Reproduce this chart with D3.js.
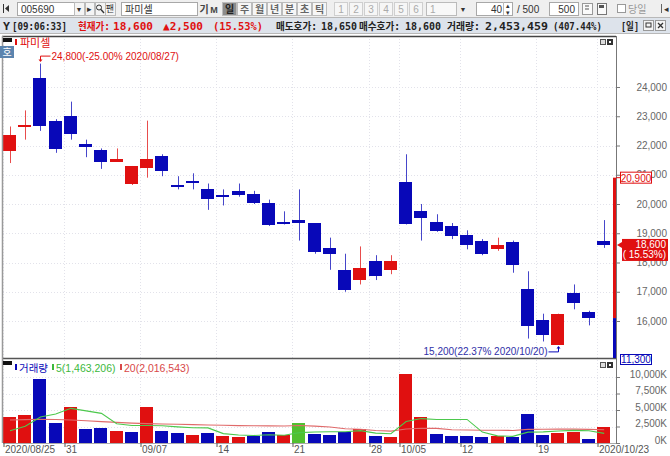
<!DOCTYPE html>
<html>
<head>
<meta charset="utf-8">
<script src="https://cdn.jsdelivr.net/npm/d3@7"></script>
<style>
  body { margin: 0; background: #fff; }
  svg { display: block; font-family: "Liberation Sans", "Noto Sans CJK KR", sans-serif; }
</style>
</head>
<body>
<svg width="670" height="456"></svg>
<script>
// ---- data ----
const dates = ["2020/08/25","2020/08/26","2020/08/27","2020/08/28","2020/08/31","2020/09/01","2020/09/02","2020/09/03","2020/09/04","2020/09/07",
  "2020/09/08","2020/09/09","2020/09/10","2020/09/11","2020/09/14","2020/09/15","2020/09/16","2020/09/17","2020/09/18","2020/09/21",
  "2020/09/22","2020/09/23","2020/09/24","2020/09/25","2020/09/28","2020/09/29","2020/10/05","2020/10/06","2020/10/07","2020/10/08",
  "2020/10/12","2020/10/13","2020/10/14","2020/10/15","2020/10/16","2020/10/19","2020/10/20","2020/10/21","2020/10/22","2020/10/23"]
const opens  = [21800,22650,24300,22850,23000,22050,21850,21450,20700,21250,21650,20650,20800,20500,20300,20450,20350,20050,19400,19450,
  19350,18500,17750,17400,18050,17750,20750,19750,19400,19250,18950,18750,18450,18700,17100,16050,15200,16950,16300,18750]
const highs  = [22650,23200,24800,22900,23500,22200,21900,21900,21300,22850,21700,20950,21050,20700,20500,20700,20450,20150,19750,20500,
  19350,18850,18300,18550,18250,18250,21700,20000,19650,19350,19100,18800,18850,18750,17700,16250,16250,17250,16350,19450]
const lows   = [21400,22200,22500,21750,22200,21600,21200,21450,20650,20900,20950,20500,20500,19800,19950,20250,20000,19250,19300,18750,
  18300,17750,17000,17250,17400,17600,19300,18750,19050,18800,18450,18250,18400,17650,15400,15300,15200,16400,15850,18500]
const closes = [22350,22700,22650,21900,22400,21950,21450,21550,21300,21550,21150,20600,20750,20150,20250,20300,20050,19300,19350,19350,
  18350,18300,17050,17800,17550,18050,19300,19500,19100,18900,18600,18300,18600,17900,15850,15550,16250,16600,16100,18600]
const firstPrevClose = 21800
// volume, thousands of shares
const volumes = [4000,4240,9650,2985,5410,2075,2320,1820,1670,5410,1820,1470,1210,1560,1015,865,1060,1710,1210,2985,
  1365,1210,1710,2075,1105,955,10450,3890,1365,1105,1015,865,1060,955,4350,1210,1470,1620,605,2453]
const ma5  = [1850,2550,3950,4400,5250,4870,4490,2920,2660,2660,2610,2440,2320,2290,1420,1220,1140,1240,1170,1570,
  1670,1700,1700,1870,1490,1410,3260,3700,3550,3550,3570,1650,1080,1000,1650,1690,1810,1920,1850,1463]
const ma20 = [3480,3540,3590,3560,3490,3380,3240,3120,3010,2930,2870,2830,2780,2730,2690,2640,2610,2590,2580,2650,
  2560,2420,2150,2080,1900,1800,2130,2240,2220,2010,1970,1940,1930,1900,2070,2080,2100,2100,2070,2017]
const priceTicks = [16000,17000,18000,19000,20000,21000,22000,23000,24000]
const volTicks = [0,2500,5000,7500,10000]
const tickDates = ["2020/08/25","2020/08/31","2020/09/07","2020/09/14","2020/09/21","2020/09/28","2020/10/05","2020/10/12","2020/10/19","2020/10/23"]
const tickLabels = ["2020/08/25","31","09/07","14","21","28","10/05","12","19","2020/10/23"]
const upperLimit = 20900, lowerLimit = 11300, prevClose = 16100
const lastPrice = 18600, lastPct = "15.53%"
const highNote = "24,800(-25.00% 2020/08/27)", highNoteDate = "2020/08/27", highNoteVal = 24800
const lowNote = "15,200(22.37% 2020/10/20)", lowNoteDate = "2020/10/20", lowNoteVal = 15200

const RED = "#e01010", BLUE = "#0808b8", GREEN = "#50c030"

const svg = d3.select('svg')
const L = 3, R = 616, pTop = 36, pBot = 358, vBot = 443

const x = d3.scaleBand().domain(dates).range([L, 611.2]).paddingInner(0.08).paddingOuter(0)
const bw = x.bandwidth()
const cx = d => Math.round(x(d) + bw / 2) + 0.5
const yP = d3.scaleLinear().domain([16000, 24000]).range([321, 87])
const yV = d3.scaleLinear().domain([0, 10000]).range([vBot, 377])

// ---- toolbar rows ----
const toolbar = svg.append('g')
toolbar.append('rect').attr('width', 670).attr('height', 17).attr('fill', '#efefef')
toolbar.append('rect').attr('y', 17).attr('width', 670).attr('height', 16).attr('fill', '#dde3eb')
toolbar.append('line').attr('x1', 0).attr('x2', 670).attr('y1', 17.5).attr('y2', 17.5).attr('stroke', '#b8b8b8')
toolbar.append('line').attr('x1', 0).attr('x2', 670).attr('y1', 33.5).attr('y2', 33.5).attr('stroke', '#b8b8b8')

function box(x0, y0, w, h, fill, stroke) {
  return toolbar.append('rect').attr('x', x0 + 0.5).attr('y', y0 + 0.5).attr('width', w).attr('height', h)
    .attr('fill', fill).attr('stroke', stroke)
}
function label(x0, y0, s, size, color, anchor, weight) {
  return toolbar.append('text').attr('x', x0).attr('y', y0).attr('font-size', size).attr('fill', color)
    .attr('text-anchor', anchor || 'start').attr('font-weight', weight || 'normal').text(s)
}

toolbar.append('line').attr('x1', 3.5).attr('x2', 3.5).attr('y1', 4).attr('y2', 13).attr('stroke', '#333')
toolbar.append('path').attr('d', 'M5,8.5 L9,5 L9,12 Z').attr('fill', '#333')
box(17, 2, 57, 13, '#fff', '#a8a8a8'); label(21, 12.5, '005690', 10, '#333')
box(74, 2, 10, 13, '#f4f4f4', '#bbb'); label(79, 11.5, '▼', 7, '#333', 'middle')
box(85, 2, 9, 13, '#f4f4f4', '#bbb'); label(89.5, 11.5, '▸', 9, '#333', 'middle')
box(95, 2, 10, 13, '#f4f4f4', '#bbb')
toolbar.append('circle').attr('cx', 99).attr('cy', 7.5).attr('r', 2.5).attr('fill', 'none').attr('stroke', '#333')
toolbar.append('line').attr('x1', 101).attr('y1', 9.5).attr('x2', 104).attr('y2', 13).attr('stroke', '#333').attr('stroke-width', 1.4)
box(105, 2, 10, 13, '#f4f4f4', '#bbb'); label(110, 12, '팬', 9, '#333', 'middle')
box(121, 2, 76, 13, '#fff', '#a8a8a8'); label(125, 12.5, '파미셀', 10, '#333')
label(204, 12.5, '기', 10, '#444', 'middle', 'bold'); label(214, 12.5, 'M', 9, '#444', 'middle', 'bold')
const periods = ['일','주','월','년','분','초','틱']
periods.forEach((p, i) => {
  const bx = 222 + i * 15
  box(bx, 2, 14, 13, i === 0 ? '#8c8c8c' : '#f6f6f6', '#bcbcbc')
  label(bx + 7.5, 12.5, p, 10, i === 0 ? '#222' : '#666', 'middle', 'bold')
})
const nums = ['1','2','3','4','5','6']
nums.forEach((n, i) => {
  const bx = 334 + i * 15
  box(bx, 2, 13, 13, '#f6f6f6', '#cfcfcf')
  label(bx + 7, 12.5, n, 10, '#aaa', 'middle')
})
box(426, 2, 30, 13, '#f8f8f8', '#bbb'); label(430, 12.5, '1', 10, '#aaa')
label(463, 11.5, '▼', 7, '#333', 'middle')
box(476, 2, 36, 13, '#fff', '#a8a8a8'); label(502, 12.5, '40', 10, '#333', 'end')
toolbar.append('line').attr('x1', 503.5).attr('x2', 503.5).attr('y1', 2).attr('y2', 15).attr('stroke', '#bbb')
label(508, 8, '▴', 7, '#333', 'middle'); label(508, 14.5, '▾', 7, '#333', 'middle')
label(517, 12.5, '/ 500', 10, '#333')
box(549, 2, 29, 13, '#fff', '#a8a8a8'); label(575, 12.5, '500', 10, '#333', 'end')
box(582, 3, 10, 11, '#fafafa', '#999'); toolbar.append('path').attr('d', 'M585,6 h4 M585,9 h4').attr('stroke', '#555')
box(597, 3, 9, 11, '#fafafa', '#777'); toolbar.append('rect').attr('x', 599).attr('y', 5).attr('width', 5).attr('height', 3).attr('fill', '#555')
box(617, 4, 8, 8, '#fff', '#999'); label(628, 12.5, '당일', 10, '#999')
toolbar.append('line').attr('x1', 661.5).attr('x2', 661.5).attr('y1', 4).attr('y2', 13).attr('stroke', '#666')
label(666, 12, '◂', 9, '#333', 'middle')

// info row (Korean words a point smaller so their natural width fits the slot)
const info = [
  { s: 'Y', x: 3, w: 7, c: '#222', f: 11 },
  { s: '[09:06:33]', x: 12, w: 55, c: '#222', f: 11 },
  { s: '현재가:', x: 78, w: 32, c: RED, f: 10 },
  { s: '18,600', x: 113, w: 40, c: RED, f: 11 },
  { s: '▲2,500', x: 163, w: 40, c: RED, f: 11 },
  { s: '(15.53%)', x: 213, w: 50, c: RED, f: 11 },
  { s: '매도호가:', x: 276, w: 41, c: '#222', f: 10 },
  { s: '18,650', x: 321, w: 36, c: '#222', f: 11 },
  { s: '매수호가:', x: 359, w: 41, c: '#222', f: 10 },
  { s: '18,600', x: 405, w: 36, c: '#222', f: 11 },
  { s: '거래량:', x: 447, w: 33, c: '#222', f: 10 },
  { s: '2,453,459', x: 485, w: 63, c: '#222', f: 11 },
  { s: '(407.44%)', x: 553, w: 49, c: '#222', f: 11 },
  { s: '[일]', x: 621, w: 18, c: '#222', f: 10 }
]
toolbar.selectAll('.info').data(info).enter().append('text')
  .attr('x', d => d.x).attr('y', 29.5).attr('fill', d => d.c)
  .attr('font-size', d => d.f).attr('font-weight', 'bold')
  .attr('font-family', '"DejaVu Sans Mono", "Noto Sans CJK KR", monospace')
  .attr('textLength', d => d.w).attr('lengthAdjust', 'spacingAndGlyphs')
  .text(d => d.s)
box(643, 20, 10, 10, '#f4f4f4', '#999'); toolbar.append('rect').attr('x', 646).attr('y', 23).attr('width', 5).attr('height', 4).attr('fill', 'none').attr('stroke', '#333')
box(655, 20, 10, 10, '#f4f4f4', '#999'); toolbar.append('path').attr('d', 'M658,23 l5,5 M663,23 l-5,5').attr('stroke', '#333').attr('stroke-width', 1.3)

// ---- chart frame + grids ----
const chart = svg.append('g')
const grid = chart.append('g').attr('stroke', '#e2e2ea').attr('stroke-dasharray', '1,2')
grid.selectAll('.hg').data(priceTicks).enter().append('line')
  .attr('x1', L).attr('x2', R).attr('y1', d => Math.round(yP(d)) + 0.5).attr('y2', d => Math.round(yP(d)) + 0.5)
grid.selectAll('.vg2').data(volTicks.slice(1)).enter().append('line')
  .attr('x1', L).attr('x2', R).attr('y1', d => Math.round(yV(d)) + 0.5).attr('y2', d => Math.round(yV(d)) + 0.5)
grid.selectAll('.vg').data(tickDates).enter().append('line')
  .attr('x1', d => Math.round(x(d)) + 0.5).attr('x2', d => Math.round(x(d)) + 0.5).attr('y1', pTop).attr('y2', vBot)

// ---- candles ----
const idx = d3.range(dates.length)
const candles = chart.append('g')
candles.selectAll('line').data(idx).enter().append('line')
  .attr('x1', i => cx(dates[i])).attr('x2', i => cx(dates[i]))
  .attr('y1', i => yP(highs[i])).attr('y2', i => yP(lows[i]))
  .attr('stroke', i => closes[i] >= opens[i] ? RED : BLUE).attr('stroke-opacity', 0.75)
candles.selectAll('rect').data(idx).enter().append('rect')
  .attr('x', i => Math.round(x(dates[i])))
  .attr('width', Math.round(bw) - 1)
  .attr('y', i => Math.round(yP(Math.max(opens[i], closes[i]))))
  .attr('height', i => Math.max(2, Math.round(Math.abs(yP(opens[i]) - yP(closes[i])))))
  .attr('fill', i => closes[i] >= opens[i] ? RED : BLUE)
  .attr('shape-rendering', 'crispEdges')

// high / low notes
const hx = cx(highNoteDate), hy = yP(highNoteVal)
chart.append('path').attr('d', `M${hx + 10},${hy - 7.5} H${hx} V${hy - 3}`).attr('fill', 'none').attr('stroke', RED)
chart.append('path').attr('d', `M${hx - 2},${hy - 4} L${hx + 2},${hy - 4} L${hx},${hy - 1.5} Z`).attr('fill', RED)
chart.append('text').attr('x', hx + 11).attr('y', hy - 4).attr('font-size', 10).attr('fill', RED).text(highNote)
const lx = cx(lowNoteDate), ly = yP(lowNoteVal)
chart.append('path').attr('d', `M${lx - 10},${ly + 7.5} H${lx} V${ly + 3}`).attr('fill', 'none').attr('stroke', BLUE)
chart.append('path').attr('d', `M${lx - 2},${ly + 4} L${lx + 2},${ly + 4} L${lx},${ly + 1.5} Z`).attr('fill', BLUE)
chart.append('text').attr('x', lx - 11).attr('y', ly + 11).attr('font-size', 10).attr('fill', '#3030a8')
  .attr('text-anchor', 'end').text(lowNote)

// ---- volume ----
const volColor = i => {
  const pc = i === 0 ? firstPrevClose : closes[i - 1]
  return closes[i] > pc ? RED : closes[i] < pc ? BLUE : GREEN
}
chart.append('g').selectAll('rect').data(idx).enter().append('rect')
  .attr('x', i => Math.round(x(dates[i])))
  .attr('width', Math.round(bw) - 1)
  .attr('y', i => Math.round(yV(volumes[i])))
  .attr('height', i => vBot - Math.round(yV(volumes[i])))
  .attr('fill', volColor)
  .attr('shape-rendering', 'crispEdges')

const line = arr => d3.line().x((d, i) => x(dates[i]) + bw / 2).y(d => yV(d))(arr)
chart.append('path').attr('d', line(ma20)).attr('fill', 'none').attr('stroke', '#e06a6a').attr('stroke-width', 1.1)
chart.append('path').attr('d', line(ma5)).attr('fill', 'none').attr('stroke', '#4cc84c').attr('stroke-width', 1.1)

// ---- frame lines ----
chart.append('line').attr('x1', 2).attr('x2', R).attr('y1', pTop + 0.5).attr('y2', pTop + 0.5).attr('stroke', '#444').attr('stroke-width', 1.5)
chart.append('line').attr('x1', 2).attr('x2', R).attr('y1', pBot + 0.5).attr('y2', pBot + 0.5).attr('stroke', '#555').attr('stroke-width', 1.5)
chart.append('line').attr('x1', 2.5).attr('x2', 2.5).attr('y1', pTop).attr('y2', vBot).attr('stroke', '#999').attr('stroke-width', 1.5)
chart.append('line').attr('x1', L).attr('x2', R).attr('y1', vBot + 0.5).attr('y2', vBot + 0.5).attr('stroke', '#aaa')

// price limit bar
chart.append('rect').attr('x', 613).attr('width', 3).attr('y', yP(upperLimit)).attr('height', yP(prevClose) - yP(upperLimit)).attr('fill', RED)
chart.append('rect').attr('x', 613).attr('width', 3).attr('y', yP(prevClose)).attr('height', pBot - yP(prevClose)).attr('fill', BLUE)

// ---- axes ----
const pAxis = chart.append('g').attr('transform', `translate(${R},0)`)
  .call(d3.axisRight(yP).tickValues(priceTicks).tickSize(4).tickFormat(d3.format(',')))
pAxis.select('.domain').attr('d', `M0.5,${pTop}V${vBot}`).attr('stroke', '#777')
pAxis.selectAll('.tick line').attr('stroke', '#777')
pAxis.selectAll('text').attr('x', 51).attr('text-anchor', 'end').attr('fill', '#666').attr('font-size', 10)
  .attr('font-family', '"Liberation Sans", sans-serif')

const vAxis = chart.append('g').attr('transform', `translate(${R},0)`)
  .call(d3.axisRight(yV).tickValues(volTicks).tickSize(4).tickFormat(d => d3.format(',')(d) + 'K'))
vAxis.select('.domain').remove()
vAxis.selectAll('.tick line').attr('stroke', '#777')
vAxis.selectAll('text').attr('x', 51).attr('y', -3).attr('text-anchor', 'end').attr('fill', '#666').attr('font-size', 10)
  .attr('font-family', '"Liberation Sans", sans-serif')

const xl = d3.scaleOrdinal().domain(dates).range(dates.map(d => Math.round(x(d)) + 0.5))
const xAxis = chart.append('g').attr('transform', `translate(0,${vBot})`)
  .call(d3.axisBottom(xl).tickValues(tickDates).tickSize(4).tickFormat((d) => tickLabels[tickDates.indexOf(d)]))
xAxis.select('.domain').remove()
xAxis.selectAll('.tick line').attr('stroke', '#555')
xAxis.selectAll('text').attr('x', 1).attr('y', 3).attr('text-anchor', 'start').attr('fill', '#555').attr('font-size', 10)
  .attr('font-family', '"Liberation Sans", sans-serif')

// right-side price boxes
const ub = yP(upperLimit)
chart.append('line').attr('x1', R).attr('x2', 620).attr('y1', ub).attr('y2', ub).attr('stroke', RED)
chart.append('rect').attr('x', 620.5).attr('y', ub - 5.5).attr('width', 31).attr('height', 11).attr('fill', '#fff').attr('stroke', RED)
chart.append('text').attr('x', 636).attr('y', ub + 4).attr('text-anchor', 'middle').attr('font-size', 10).attr('fill', RED)
  .text(d3.format(',')(upperLimit))
const lp = yP(lastPrice)
chart.append('path').attr('d', `M617,${lp} L622,${lp - 3} L622,${lp + 3} Z`).attr('fill', RED)
chart.append('rect').attr('x', 622).attr('y', lp - 6).attr('width', 46).attr('height', 22).attr('fill', RED)
chart.append('text').attr('x', 666).attr('y', lp + 3.5).attr('text-anchor', 'end').attr('font-size', 10).attr('fill', '#fff')
  .text(d3.format(',')(lastPrice))
chart.append('text').attr('x', 666).attr('y', lp + 13.5).attr('text-anchor', 'end').attr('font-size', 10).attr('fill', '#fff')
  .text('( ' + lastPct + ')')
chart.append('rect').attr('x', 620.5).attr('y', pBot - 3.5).attr('width', 31).attr('height', 10).attr('fill', '#fff').attr('stroke', BLUE)
chart.append('text').attr('x', 636).attr('y', pBot + 5).attr('text-anchor', 'middle').attr('font-size', 10).attr('fill', BLUE)
  .text(d3.format(',')(lowerLimit))

// ---- legends ----
function paneIcons(yy) {
  chart.append('rect').attr('x', 600.5).attr('y', yy + 0.5).attr('width', 5).attr('height', 5).attr('fill', '#ddd').attr('stroke', '#555')
  chart.append('rect').attr('x', 607.5).attr('y', yy + 0.5).attr('width', 5).attr('height', 5).attr('fill', '#333').attr('stroke', '#333')
  chart.append('rect').attr('x', 609).attr('y', yy + 2).attr('width', 2).attr('height', 2).attr('fill', '#fff')
}
paneIcons(39)
paneIcons(362)

chart.append('rect').attr('x', 3).attr('y', 38).attr('width', 9).attr('height', 4).attr('fill', '#111')
chart.append('rect').attr('x', 15).attr('y', 39).attr('width', 2).attr('height', 6).attr('fill', RED)
chart.append('text').attr('x', 20).attr('y', 47).attr('font-size', 11).attr('fill', RED).text('파미셀')
chart.append('rect').attr('x', 0).attr('y', 46).attr('width', 14).attr('height', 12).attr('fill', '#5c84ae')
chart.append('text').attr('x', 7).attr('y', 56).attr('text-anchor', 'middle').attr('font-size', 10).attr('fill', '#fff').text('호')

chart.append('rect').attr('x', 3).attr('y', 361).attr('width', 9).attr('height', 4).attr('fill', '#111')
const vleg = [
  { s: '거래량', c: BLUE, x: 15 },
  { s: '5(' + d3.format(',')(1463206) + ')', c: '#3cb83c', x: 52 },
  { s: '20(' + d3.format(',')(2016543) + ')', c: '#d84848', x: 120 }
]
vleg.forEach(d => {
  chart.append('rect').attr('x', d.x).attr('y', 364).attr('width', 2).attr('height', 6).attr('fill', d.c)
  chart.append('text').attr('x', d.x + 4).attr('y', 371.5).attr('font-size', 10.5).attr('fill', d.c).text(d.s)
})
</script>
</body>
</html>
